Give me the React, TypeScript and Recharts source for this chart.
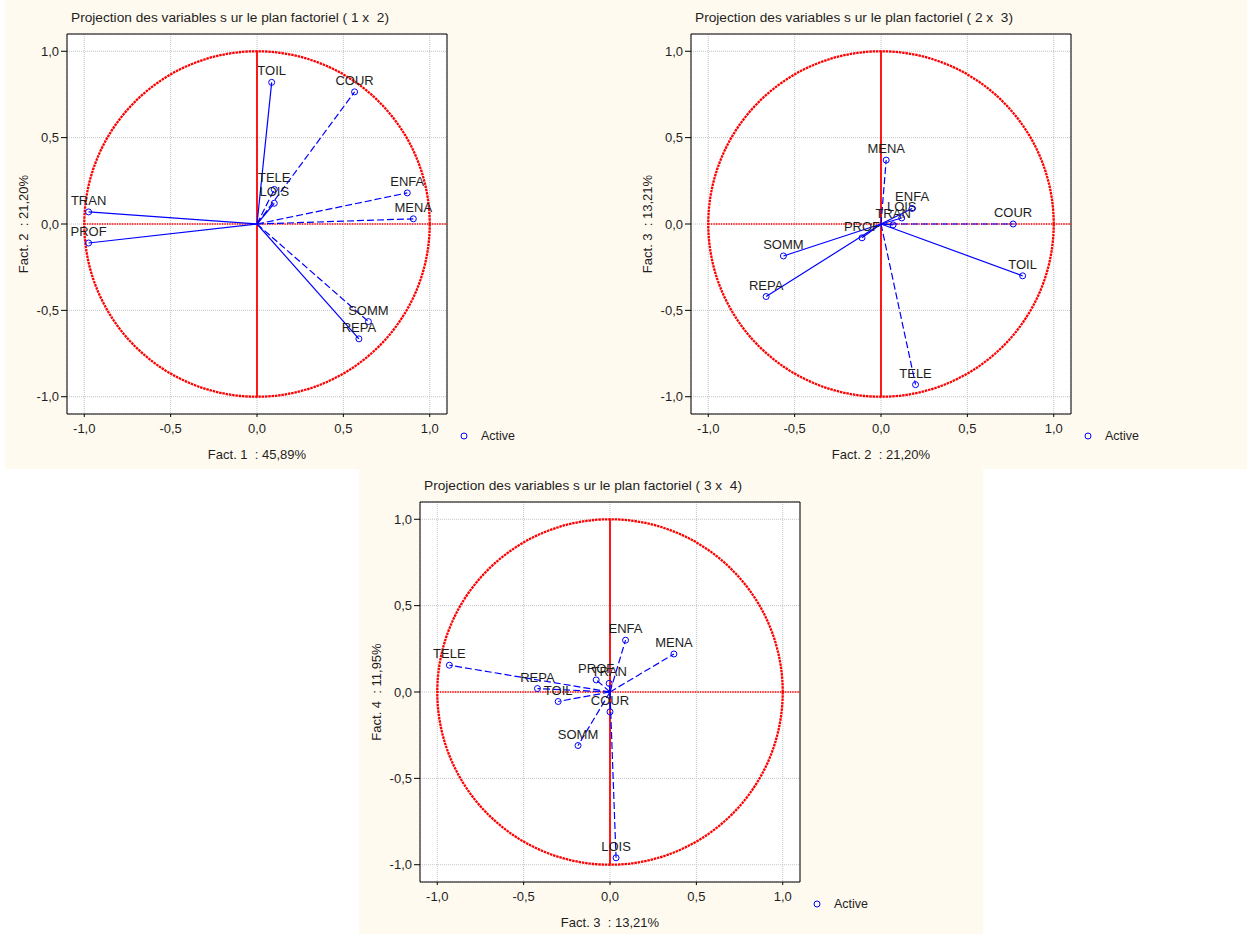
import {
  ScatterChart,
  Scatter,
  XAxis,
  YAxis,
  CartesianGrid,
  ReferenceArea,
  ReferenceLine,
  Legend,
} from 'recharts';

const FONT = '"Liberation Sans", Arial, sans-serif';
const BLUE = '#0000ff';
const RED = '#ff0000';
const INK = '#1e1e1e';
const CREAM = '#fffaef';

// variable coordinates on the first four factors
const VARIABLES = ['TOIL', 'COUR', 'TELE', 'LOIS', 'ENFA', 'MENA', 'TRAN', 'PROF', 'SOMM', 'REPA'];
const FACT_1 = [0.085, 0.565, 0.1, 0.1, 0.87, 0.905, -0.975, -0.975, 0.645, 0.59];
const FACT_2 = [0.82, 0.765, 0.2, 0.12, 0.18, 0.03, 0.07, -0.11, -0.565, -0.665];
const FACT_3 = [-0.3, 0.0, -0.93, 0.035, 0.09, 0.37, -0.005, -0.08, -0.185, -0.42];
const FACT_4 = [-0.055, -0.115, 0.155, -0.96, 0.3, 0.22, 0.05, 0.07, -0.31, 0.02];

const FACT_LABELS = [
  'Fact. 1 \u00a0: 45,89%',
  'Fact. 2 \u00a0: 21,20%',
  'Fact. 3 \u00a0: 13,21%',
  'Fact. 4 \u00a0: 11,95%',
];

const MAJOR_TICKS = [-1, -0.5, 0, 0.5, 1];
const MINOR_TICKS = [
  -1.0, -0.9, -0.8, -0.7, -0.6, -0.5, -0.4, -0.3, -0.2, -0.1, 0,
  0.1, 0.2, 0.3, 0.4, 0.5, 0.6, 0.7, 0.8, 0.9, 1.0,
];

// vectors drawn with a solid stroke, the rest are dashed
const SOLID_1x2 = ['TOIL', 'LOIS', 'TRAN', 'PROF', 'REPA'];
const SOLID_2x3 = ['TOIL', 'LOIS', 'ENFA', 'TRAN', 'PROF', 'SOMM', 'REPA'];
const SOLID_3x4: string[] = [];

const W = 620;
const H = 468;

const fmt = (v: number) => v.toFixed(1).replace('.', ',');

const PANELS = [
  { xs: FACT_1, ys: FACT_2, xLabel: FACT_LABELS[0], yLabel: FACT_LABELS[1], pair: '( 1 x \u00a02)', solid: SOLID_1x2, left: 0, top: 0 },
  { xs: FACT_2, ys: FACT_3, xLabel: FACT_LABELS[1], yLabel: FACT_LABELS[2], pair: '( 2 x \u00a03)', solid: SOLID_2x3, left: 624, top: 0 },
  { xs: FACT_3, ys: FACT_4, xLabel: FACT_LABELS[2], yLabel: FACT_LABELS[3], pair: '( 3 x \u00a04)', solid: SOLID_3x4, left: 353, top: 468 },
];

function PointShape(props: any) {
  const { cx, cy, payload } = props;
  if (cx == null || cy == null) return <g />;
  return (
    <g>
      <circle cx={cx} cy={cy} r={3} fill="none" stroke={BLUE} strokeWidth={1} />
      <text x={cx} y={cy - 7} textAnchor="middle" fontSize={13} fontFamily={FONT} fill={INK}>
        {payload.name}
      </text>
    </g>
  );
}

// correlation circle inscribed in the [-1, 1] square
function UnitCircle(props: any) {
  const { x, y, width, height } = props;
  if (x == null) return <g />;
  return (
    <ellipse
      cx={x + width / 2}
      cy={y + height / 2}
      rx={width / 2}
      ry={height / 2}
      fill="none"
      stroke={RED}
      strokeWidth={2.3}
      strokeDasharray="2.5 0.8"
    />
  );
}

const NoMark = () => <g />;

function ActiveLegend() {
  return (
    <div style={{ display: 'flex', alignItems: 'center', fontFamily: FONT, fontSize: 12.5, color: INK }}>
      <svg width={8} height={8}>
        <circle cx={4} cy={4} r={3} fill="none" stroke={BLUE} strokeWidth={1} />
      </svg>
      <span style={{ marginLeft: 13 }}>Active</span>
    </div>
  );
}

function FactorPanel({ panel }: { panel: (typeof PANELS)[number] }) {
  const points = VARIABLES.map((name, i) => ({ name, x: panel.xs[i], y: panel.ys[i] }));

  return (
    <div style={{ position: 'absolute', left: panel.left, top: panel.top, width: W, height: H }}>
      <ScatterChart width={W} height={H} margin={{ top: 34, right: 173, bottom: 24, left: 27 }}>
        <CartesianGrid fill="#ffffff" stroke="#c4c4c4" strokeDasharray="1 1" />
        <XAxis
          type="number"
          dataKey="x"
          domain={[-1.1, 1.1]}
          allowDataOverflow
          ticks={MAJOR_TICKS}
          interval={0}
          tickFormatter={fmt}
          height={30}
          tickSize={3}
          tickMargin={7}
          axisLine={false}
          stroke="#000"
          tick={{ fill: INK, fontSize: 13, fontFamily: FONT }}
        />
        <YAxis
          type="number"
          dataKey="y"
          domain={[-1.1, 1.1]}
          allowDataOverflow
          ticks={MAJOR_TICKS}
          interval={0}
          tickFormatter={fmt}
          width={40}
          tickSize={6}
          tickMargin={2}
          axisLine={false}
          stroke="#000"
          tick={{ fill: INK, fontSize: 13, fontFamily: FONT }}
        />
        <XAxis xAxisId="minor" type="number" domain={[-1.1, 1.1]} allowDataOverflow ticks={MINOR_TICKS} interval={0} mirror height={1} tick={false} tickSize={3} axisLine={false} stroke="#000" />
        <YAxis yAxisId="minor" type="number" domain={[-1.1, 1.1]} allowDataOverflow ticks={MINOR_TICKS} interval={0} mirror width={1} tick={false} tickSize={3} axisLine={false} stroke="#000" />
        <XAxis xAxisId="top" orientation="top" type="number" domain={[-1.1, 1.1]} allowDataOverflow ticks={MAJOR_TICKS} interval={0} mirror height={1} tick={false} tickSize={3} axisLine={false} stroke="#000" />
        <YAxis yAxisId="right" orientation="right" type="number" domain={[-1.1, 1.1]} allowDataOverflow ticks={MAJOR_TICKS} interval={0} mirror width={1} tick={false} tickSize={3} axisLine={false} stroke="#000" />

        <ReferenceArea x1={-1.1} x2={1.1} y1={-1.1} y2={1.1} fill="none" fillOpacity={0} stroke="#000" strokeWidth={1} />
        <ReferenceArea x1={-1} x2={1} y1={-1} y2={1} shape={UnitCircle} />
        <ReferenceLine segment={[{ x: -1, y: 0 }, { x: 1.1, y: 0 }]} stroke={RED} strokeWidth={1.3} strokeDasharray="1.5 1" />
        <ReferenceLine segment={[{ x: 0, y: -1 }, { x: 0, y: 1 }]} stroke={RED} strokeWidth={1.8} />

        {points.map((p) => (
          <Scatter
            key={p.name}
            data={[{ x: 0, y: 0 }, { x: p.x, y: p.y }]}
            line={{
              stroke: BLUE,
              strokeWidth: 1.2,
              strokeDasharray: panel.solid.includes(p.name) ? undefined : '7 3',
            }}
            lineType="joint"
            shape={NoMark}
            legendType="none"
            isAnimationActive={false}
          />
        ))}
        <Scatter name="Active" data={points} shape={PointShape} isAnimationActive={false} />

        <Legend
          layout="horizontal"
          verticalAlign="middle"
          align="center"
          content={ActiveLegend}
          wrapperStyle={{ left: 460, top: 429, width: 'auto' }}
        />
      </ScatterChart>

      <svg width={W} height={H} style={{ position: 'absolute', left: 0, top: 0, pointerEvents: 'none' }}>
        <text x={71} y={22} fontSize={12.5} fontFamily={FONT} fill={INK} textLength={318} lengthAdjust="spacingAndGlyphs">
          {'Projection des variables s ur le plan factoriel ' + panel.pair}
        </text>
        <text x={257} y={459} textAnchor="middle" fontSize={13} fontFamily={FONT} fill={INK}>
          {panel.xLabel}
        </text>
        <text x={28} y={224} transform="rotate(-90 28 224)" textAnchor="middle" fontSize={13} fontFamily={FONT} fill={INK}>
          {panel.yLabel}
        </text>
      </svg>
    </div>
  );
}

export default function App() {
  return (
    <div style={{ position: 'absolute', left: 0, top: 0, width: 1247, height: 934, background: '#ffffff', overflow: 'hidden' }}>
      <div style={{ position: 'absolute', left: 5, top: 0, width: 1242, height: 469, background: CREAM }} />
      <div style={{ position: 'absolute', left: 359, top: 469, width: 624, height: 465, background: CREAM }} />
      {PANELS.map((panel) => (
        <FactorPanel key={panel.pair} panel={panel} />
      ))}
    </div>
  );
}
